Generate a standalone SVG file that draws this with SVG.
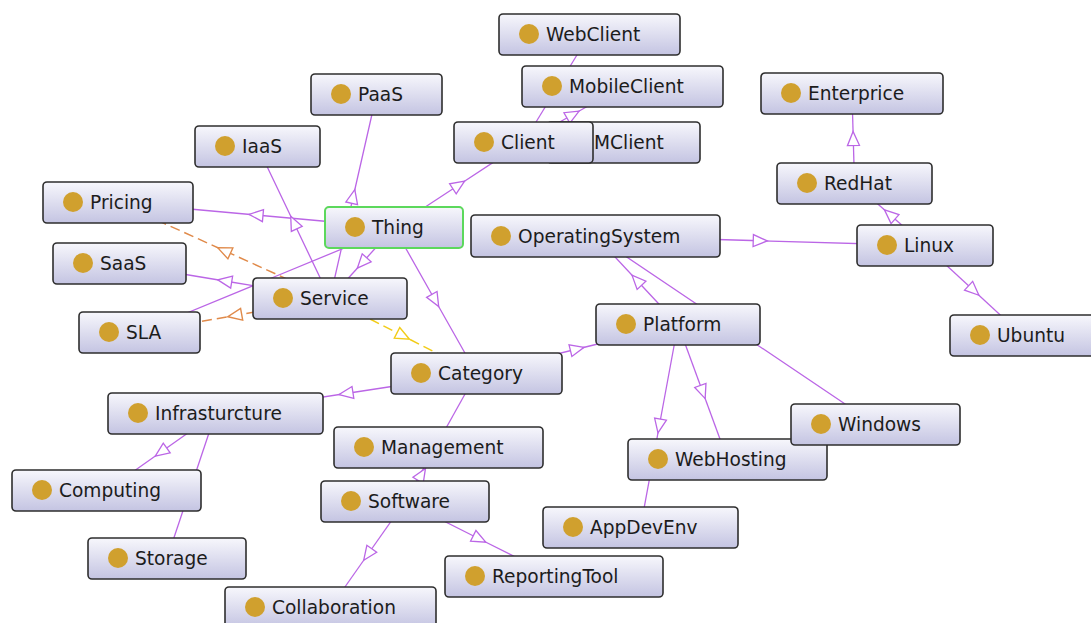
<svg xmlns="http://www.w3.org/2000/svg" width="1091" height="623" viewBox="0 0 1091 623">
<style>
.e{fill:none;stroke:#bb66e6;stroke-width:1.3}
.eo{fill:none;stroke:#e08a4a;stroke-width:1.5;stroke-dasharray:10,5}
.ey{fill:none;stroke:#f2cc18;stroke-width:1.5;stroke-dasharray:10,5}
.box{fill:url(#g);stroke:#2e2e2e;stroke-width:1.6}
.root{fill:url(#g);stroke:#5cd85c;stroke-width:2}
.dot{fill:#d0a02e}
.t{font-family:"DejaVu Sans",sans-serif;font-size:18.6px;fill:#1c1c1c}
</style>
<defs>
<linearGradient id="g" x1="0" y1="0" x2="0" y2="1">
<stop offset="0" stop-color="#f7f7fc"/>
<stop offset="1" stop-color="#c4c4e2"/>
</linearGradient>
<marker id="mp" viewBox="-9 -8 18 16" markerWidth="18" markerHeight="16" refX="0" refY="0" orient="auto" markerUnits="userSpaceOnUse"><path d="M7,0 L-7,-6 L-7,6 Z" fill="#fff" stroke="#bb66e6" stroke-width="1.3"/></marker>
<marker id="mo" viewBox="-9 -8 18 16" markerWidth="18" markerHeight="16" refX="0" refY="0" orient="auto" markerUnits="userSpaceOnUse"><path d="M7,0 L-7,-6 L-7,6 Z" fill="#fff" stroke="#e08a4a" stroke-width="1.4"/></marker>
<marker id="my" viewBox="-9 -8 18 16" markerWidth="18" markerHeight="16" refX="0" refY="0" orient="auto" markerUnits="userSpaceOnUse"><path d="M7,0 L-7,-6 L-7,6 Z" fill="#fff" stroke="#f2cc18" stroke-width="1.4"/></marker>
</defs>
<rect width="1091" height="623" fill="#fff"/>
<g id="connectors">
<polyline class="e" marker-mid="url(#mp)" points="394,227.5 458.75,185 523.5,142.5"/>
<polyline class="e" points="523.5,142.5 556.5,88.5 589.5,34.5"/>
<polyline class="e" marker-mid="url(#mp)" points="523.5,142.5 573,114.5 622.5,86.5"/>
<polyline class="e" marker-mid="url(#mp)" points="394,227.5 256,215 118,202.5"/>
<polyline class="e" marker-mid="url(#mp)" points="394,227.5 362,263 330,298.5"/>
<polyline class="e" marker-mid="url(#mp)" points="394,227.5 435.25,300.5 476.5,373.5"/>
<polyline class="e" points="394,227.5 266.75,280 139.5,332.5"/>
<polyline class="e" marker-mid="url(#mp)" points="330,298.5 353.25,196.5 376.5,94.5"/>
<polyline class="e" marker-mid="url(#mp)" points="330,298.5 293.75,222.5 257.5,146.5"/>
<polyline class="e" marker-mid="url(#mp)" points="330,298.5 224.75,281 119.5,263.5"/>
<polyline class="eo" marker-mid="url(#mo)" points="330,298.5 224,250.5 118,202.5"/>
<polyline class="eo" marker-mid="url(#mo)" points="330,298.5 234.75,315.5 139.5,332.5"/>
<polyline class="ey" marker-mid="url(#my)" points="330,298.5 403.25,336 476.5,373.5"/>
<polyline class="e" marker-mid="url(#mp)" points="595.5,236 760.25,240.75 925,245.5"/>
<polyline class="e" marker-mid="url(#mp)" points="854.5,183.5 853.25,138.5 852,93.5"/>
<polyline class="e" marker-mid="url(#mp)" points="925,245.5 889.75,214.5 854.5,183.5"/>
<polyline class="e" marker-mid="url(#mp)" points="925,245.5 973.75,290.5 1022.5,335.5"/>
<polyline class="e" marker-mid="url(#mp)" points="678,324.5 636.75,280.25 595.5,236"/>
<polyline class="e" points="595.5,236 735.5,330.25 875.5,424.5"/>
<polyline class="e" marker-mid="url(#mp)" points="476.5,373.5 577.25,349 678,324.5"/>
<polyline class="e" marker-mid="url(#mp)" points="678,324.5 702.75,392 727.5,459.5"/>
<polyline class="e" marker-mid="url(#mp)" points="678,324.5 659.25,426 640.5,527.5"/>
<polyline class="e" marker-mid="url(#mp)" points="476.5,373.5 346,393.5 215.5,413.5"/>
<polyline class="e" points="476.5,373.5 440.75,437.5 405,501.5"/>
<polyline class="e" marker-mid="url(#mp)" points="405,501.5 421.75,474.5 438.5,447.5"/>
<polyline class="e" marker-mid="url(#mp)" points="215.5,413.5 161,452 106.5,490.5"/>
<polyline class="e" points="215.5,413.5 191.25,486 167,558.5"/>
<polyline class="e" marker-mid="url(#mp)" points="405,501.5 367.75,554.5 330.5,607.5"/>
<polyline class="e" marker-mid="url(#mp)" points="405,501.5 479.5,539 554,576.5"/>
</g>
<g id="WebClient"><rect class="box" x="499" y="14" width="181" height="41" rx="4"/><circle class="dot" cx="529" cy="34" r="10"/><text class="t" x="546" y="40.5">WebClient</text></g>
<g id="MobileClient"><rect class="box" x="522" y="66" width="201" height="41" rx="4"/><circle class="dot" cx="552" cy="86" r="10"/><text class="t" x="569" y="92.5">MobileClient</text></g>
<g id="MClient"><rect class="box" x="547" y="122" width="153" height="41" rx="4"/><circle class="dot" cx="577" cy="142" r="10"/><text class="t" x="594" y="148.5">MClient</text></g>
<g id="Client"><rect class="box" x="454" y="122" width="139" height="41" rx="4"/><circle class="dot" cx="484" cy="142" r="10"/><text class="t" x="501" y="148.5">Client</text></g>
<g id="Enterprice"><rect class="box" x="761" y="73" width="182" height="41" rx="4"/><circle class="dot" cx="791" cy="93" r="10"/><text class="t" x="808" y="99.5">Enterprice</text></g>
<g id="PaaS"><rect class="box" x="311" y="74" width="131" height="41" rx="4"/><circle class="dot" cx="341" cy="94" r="10"/><text class="t" x="358" y="100.5">PaaS</text></g>
<g id="IaaS"><rect class="box" x="195" y="126" width="125" height="41" rx="4"/><circle class="dot" cx="225" cy="146" r="10"/><text class="t" x="242" y="152.5">IaaS</text></g>
<g id="Pricing"><rect class="box" x="43" y="182" width="150" height="41" rx="4"/><circle class="dot" cx="73" cy="202" r="10"/><text class="t" x="90" y="208.5">Pricing</text></g>
<g id="Thing"><rect class="root" x="325" y="207" width="138" height="41" rx="4"/><circle class="dot" cx="355" cy="227" r="10"/><text class="t" x="372" y="233.5">Thing</text></g>
<g id="OperatingSystem"><rect class="box" x="471" y="215" width="249" height="42" rx="4"/><circle class="dot" cx="501" cy="236" r="10"/><text class="t" x="518" y="242.5">OperatingSystem</text></g>
<g id="RedHat"><rect class="box" x="777" y="163" width="155" height="41" rx="4"/><circle class="dot" cx="807" cy="183" r="10"/><text class="t" x="824" y="189.5">RedHat</text></g>
<g id="Linux"><rect class="box" x="857" y="225" width="136" height="41" rx="4"/><circle class="dot" cx="887" cy="245" r="10"/><text class="t" x="904" y="251.5">Linux</text></g>
<g id="SaaS"><rect class="box" x="53" y="243" width="133" height="41" rx="4"/><circle class="dot" cx="83" cy="263" r="10"/><text class="t" x="100" y="269.5">SaaS</text></g>
<g id="Service"><rect class="box" x="253" y="278" width="154" height="41" rx="4"/><circle class="dot" cx="283" cy="298" r="10"/><text class="t" x="300" y="304.5">Service</text></g>
<g id="SLA"><rect class="box" x="79" y="312" width="121" height="41" rx="4"/><circle class="dot" cx="109" cy="332" r="10"/><text class="t" x="126" y="338.5">SLA</text></g>
<g id="Ubuntu"><rect class="box" x="950" y="315" width="145" height="41" rx="4"/><circle class="dot" cx="980" cy="335" r="10"/><text class="t" x="997" y="341.5">Ubuntu</text></g>
<g id="Platform"><rect class="box" x="596" y="304" width="164" height="41" rx="4"/><circle class="dot" cx="626" cy="324" r="10"/><text class="t" x="643" y="330.5">Platform</text></g>
<g id="Category"><rect class="box" x="391" y="353" width="171" height="41" rx="4"/><circle class="dot" cx="421" cy="373" r="10"/><text class="t" x="438" y="379.5">Category</text></g>
<g id="Infrasturcture"><rect class="box" x="108" y="393" width="215" height="41" rx="4"/><circle class="dot" cx="138" cy="413" r="10"/><text class="t" x="155" y="419.5">Infrasturcture</text></g>
<g id="WebHosting"><rect class="box" x="628" y="439" width="199" height="41" rx="4"/><circle class="dot" cx="658" cy="459" r="10"/><text class="t" x="675" y="465.5">WebHosting</text></g>
<g id="Windows"><rect class="box" x="791" y="404" width="169" height="41" rx="4"/><circle class="dot" cx="821" cy="424" r="10"/><text class="t" x="838" y="430.5">Windows</text></g>
<g id="Management"><rect class="box" x="334" y="427" width="209" height="41" rx="4"/><circle class="dot" cx="364" cy="447" r="10"/><text class="t" x="381" y="453.5">Management</text></g>
<g id="Computing"><rect class="box" x="12" y="470" width="189" height="41" rx="4"/><circle class="dot" cx="42" cy="490" r="10"/><text class="t" x="59" y="496.5">Computing</text></g>
<g id="Software"><rect class="box" x="321" y="481" width="168" height="41" rx="4"/><circle class="dot" cx="351" cy="501" r="10"/><text class="t" x="368" y="507.5">Software</text></g>
<g id="AppDevEnv"><rect class="box" x="543" y="507" width="195" height="41" rx="4"/><circle class="dot" cx="573" cy="527" r="10"/><text class="t" x="590" y="533.5">AppDevEnv</text></g>
<g id="Storage"><rect class="box" x="88" y="538" width="158" height="41" rx="4"/><circle class="dot" cx="118" cy="558" r="10"/><text class="t" x="135" y="564.5">Storage</text></g>
<g id="ReportingTool"><rect class="box" x="445" y="556" width="218" height="41" rx="4"/><circle class="dot" cx="475" cy="576" r="10"/><text class="t" x="492" y="582.5">ReportingTool</text></g>
<g id="Collaboration"><rect class="box" x="225" y="587" width="211" height="41" rx="4"/><circle class="dot" cx="255" cy="607" r="10"/><text class="t" x="272" y="613.5">Collaboration</text></g>
</svg>
